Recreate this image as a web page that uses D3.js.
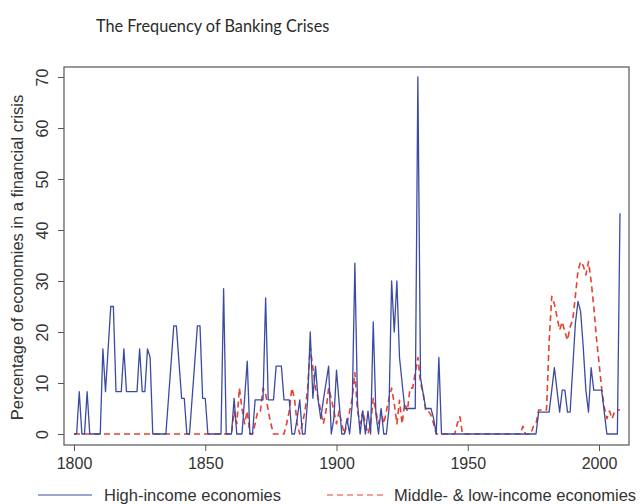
<!DOCTYPE html>
<html>
<head>
<meta charset="utf-8">
<script src="https://cdn.jsdelivr.net/npm/d3@7"></script>
<style>
  html, body { margin: 0; padding: 0; background: #fff; }
  svg { display: block; }
</style>
</head>
<body>
<svg id="chart" width="640" height="504"></svg>
<script>
// ---------------- DATA ----------------
const chartTitle = "The Frequency of Banking Crises";
const yTitle = "Percentage of economies in a financial crisis";
const firstYear = 1800;
const xTicks = [1800, 1850, 1900, 1950, 2000];
const yTicks = [0, 10, 20, 30, 40, 50, 60, 70];
const seriesNames = ["High-income economies", "Middle- & low-income economies"];

// High-income economies, one value per year from 1800 to 2008
const highIncome = [
  0, 0, 8.3, 0, 0, 8.3, 0, 0, 0, 0,                 // 1800s
  0, 16.7, 8.3, 16.7, 25, 25, 8.3, 8.3, 8.3, 16.7,  // 1810s
  8.3, 8.3, 8.3, 8.3, 8.3, 16.7, 8.3, 8.3, 16.7, 15,// 1820s
  0, 0, 0, 0, 0, 0, 7, 14, 21.2, 21.2,              // 1830s
  14, 7, 7, 0, 0, 7, 14, 21.2, 21.2, 7,             // 1840s
  7, 0, 0, 0, 0, 0, 0, 28.5, 0, 0,                  // 1850s
  0, 7, 0, 0, 0, 7, 14.3, 0, 0, 6.7,                // 1860s
  6.7, 6.7, 6.7, 26.7, 6.7, 6.7, 6.7, 13.3, 13.3, 13.3, // 1870s
  6.7, 6.7, 6.7, 0, 0, 3, 6.7, 0, 0, 6.7,           // 1880s
  20, 7, 13.3, 6.7, 3, 6.7, 10, 13.3, 0, 3,         // 1890s
  12.5, 6.2, 0, 0, 3, 0, 6, 33.5, 6, 0,             // 1900s
  4.5, 0, 4.5, 0, 22, 4, 0, 5, 0, 0,                // 1910s
  5, 30, 20, 30, 15, 10, 5, 5, 5, 5,                // 1920s
  5, 70, 11, 8, 5, 5, 5, 3, 0, 15,                  // 1930s
  0, 0, 0, 0, 0, 0, 0, 0, 0, 0,                     // 1940s
  0, 0, 0, 0, 0, 0, 0, 0, 0, 0,                     // 1950s
  0, 0, 0, 0, 0, 0, 0, 0, 0, 0,                     // 1960s
  0, 0, 0, 0, 0, 0, 0, 4.3, 4.3, 4.3,               // 1970s
  4.3, 4.3, 8.6, 13, 8.6, 4.3, 8.6, 8.6, 4.3, 4.3,  // 1980s
  13, 21.7, 26, 24, 17, 8.6, 4.3, 13, 8.6, 8.6,     // 1990s
  8.6, 8.6, 4.3, 0, 0, 0, 0, 0, 43.3                // 2000s
];

// Middle- & low-income economies, one value per year from 1800 to 2008
const middleLowIncome = [
  0, 0, 0, 0, 0, 0, 0, 0, 0, 0,                     // 1800s
  0, 0, 0, 0, 0, 0, 0, 0, 0, 0,                     // 1810s
  0, 0, 0, 0, 0, 0, 0, 0, 0, 0,                     // 1820s
  0, 0, 0, 0, 0, 0, 0, 0, 0, 0,                     // 1830s
  0, 0, 0, 0, 0, 0, 0, 0, 0, 0,                     // 1840s
  0, 0, 0, 0, 0, 0, 0, 0, 0, 0,                     // 1850s
  0, 4.5, 2, 9, 5, 2, 4.5, 0, 0, 2,                 // 1860s
  4.5, 4.5, 9, 8, 4.5, 2, 0, 0, 0, 0,               // 1870s
  0, 2, 4.5, 9, 7, 2, 0, 2, 4.5, 9,                 // 1880s
  17, 13, 9, 7, 4.5, 2, 4.5, 9, 7, 4.5,             // 1890s
  2, 4.5, 2, 0, 2, 4.5, 7, 12, 4.5, 2,              // 1900s
  4.5, 2, 0, 2, 7, 4.5, 2, 4.5, 2, 4.5,             // 1910s
  7, 9, 6, 2, 6.6, 2, 6, 4.5, 9, 9,                 // 1920s
  12, 15, 10, 8, 4.5, 4.5, 3.7, 2, 0, 0,            // 1930s
  0, 0, 0, 0, 0, 0, 2, 3.4, 0, 0,                   // 1940s
  0, 0, 0, 0, 0, 0, 0, 0, 0, 0,                     // 1950s
  0, 0, 0, 0, 0, 0, 0, 0, 0, 0,                     // 1960s
  0, 1.5, 0, 0, 0, 1.5, 2, 4.7, 4.7, 4.7,           // 1970s
  4.7, 18, 27, 25.5, 23, 20.4, 22, 20, 18.4, 21,    // 1980s
  22.4, 27, 32, 33.8, 33, 31.2, 33.8, 30, 25, 19,   // 1990s
  14, 9, 5.3, 3, 4.5, 3, 4.5, 4.7, 4.7              // 2000s
];

// ---------------- DRAW ----------------
const svg = d3.select("#chart");
const W = 640, H = 504;
const frame = { left: 64, right: 629, top: 67, bottom: 445 };
const font = "'Liberation Sans', Arial, Helvetica, sans-serif";
const blue = "#3b4ba3", red = "#e5412f";

svg.append("rect").attr("width", W).attr("height", H).attr("fill", "#fff");

const x = d3.scaleLinear().domain([1800, 2008]).range([74, 620]);
const y = d3.scaleLinear().domain([0, 70]).range([434, 77]);

// title
svg.append("text")
  .attr("x", 96).attr("y", 32)
  .attr("font-family", "Lato, 'Open Sans', sans-serif")
  .attr("font-size", 16.3)
  .attr("fill", "#2b2b2b")
  .text(chartTitle);

// plot frame
svg.append("rect")
  .attr("x", frame.left).attr("y", frame.top)
  .attr("width", frame.right - frame.left)
  .attr("height", frame.bottom - frame.top)
  .attr("fill", "none").attr("stroke", "#555").attr("stroke-width", 1.2);

// y axis
const yAxis = svg.append("g")
  .attr("transform", `translate(${frame.left},0)`)
  .call(d3.axisLeft(y).tickValues(yTicks).tickSize(6).tickPadding(4).tickFormat(d3.format("d")));
yAxis.select(".domain").remove();
yAxis.selectAll(".tick line").attr("stroke", "#555");
yAxis.selectAll(".tick text")
  .attr("font-family", font).attr("font-size", 16).attr("fill", "#333")
  .attr("text-anchor", "middle")
  .attr("x", null).attr("dy", null)
  .attr("transform", "translate(-22,0) rotate(-90)")
  .attr("dy", "0.35em");

// x axis
const xAxis = svg.append("g")
  .attr("transform", `translate(0,${frame.bottom})`)
  .call(d3.axisBottom(x).tickValues(xTicks).tickSize(6).tickPadding(7).tickFormat(d3.format("d")));
xAxis.select(".domain").remove();
xAxis.selectAll(".tick line").attr("stroke", "#555");
xAxis.selectAll(".tick text")
  .attr("font-family", font).attr("font-size", 16).attr("fill", "#333");

// y title
svg.append("text")
  .attr("transform", `translate(17,${(77 + 434) / 2 + 2}) rotate(-90)`)
  .attr("text-anchor", "middle")
  .attr("dy", "0.35em")
  .attr("font-family", font).attr("font-size", 16.5).attr("fill", "#333")
  .text(yTitle);

// lines
const toPoints = arr => arr.map((v, i) => ({ year: firstYear + i, v }));
const line = d3.line().x(d => x(d.year)).y(d => y(d.v));

svg.append("path")
  .datum(toPoints(middleLowIncome))
  .attr("d", line)
  .attr("fill", "none").attr("stroke", red)
  .attr("stroke-width", 1.6).attr("stroke-dasharray", "6,4")
  .attr("stroke-linejoin", "round");

svg.append("path")
  .datum(toPoints(highIncome))
  .attr("d", line)
  .attr("fill", "none").attr("stroke", blue)
  .attr("stroke-width", 1.3)
  .attr("stroke-linejoin", "round");

// legend
const legendY = 495;
const legend = [
  { name: seriesNames[0], x1: 38, x2: 92, tx: 104, color: blue, dash: null, w: 1.2 },
  { name: seriesNames[1], x1: 327, x2: 384, tx: 394, color: red, dash: "6,4", w: 1.2 }
];
legend.forEach(l => {
  svg.append("line")
    .attr("x1", l.x1).attr("x2", l.x2).attr("y1", legendY).attr("y2", legendY)
    .attr("stroke", l.color).attr("stroke-width", l.w)
    .attr("stroke-dasharray", l.dash);
  svg.append("text")
    .attr("x", l.tx).attr("y", legendY).attr("dy", "0.35em")
    .attr("font-family", font).attr("font-size", 16.5).attr("fill", "#333")
    .text(l.name);
});
</script>
</body>
</html>
